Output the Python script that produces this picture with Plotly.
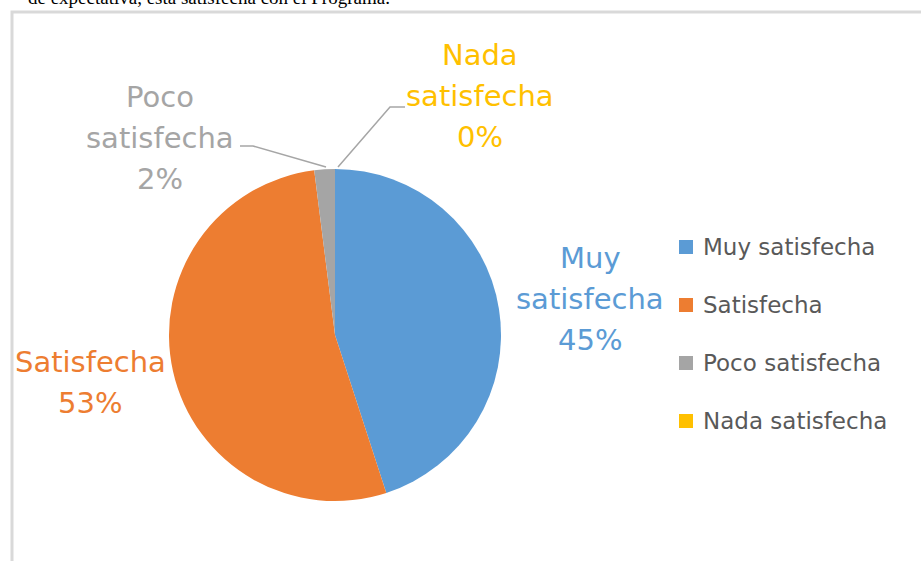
import plotly.graph_objects as go

# ---- data ----
categories = ["Muy satisfecha", "Satisfecha", "Poco satisfecha", "Nada satisfecha"]
values = [45, 53, 2, 0]
label_lines = [["Muy", "satisfecha"], ["Satisfecha"], ["Poco", "satisfecha"], ["Nada", "satisfecha"]]
colors = ["#5B9BD5", "#ED7D31", "#A5A5A5", "#FFC000"]
caption = "de expectativa, está satisfecha con el Programa."

W, H = 921, 561


def px(x):
    return x / W


def py(y):
    return 1 - y / H


# label layout (pixel centres of first line, line spacing)
label_anchor = [(590, 258), (90, 362), (160, 97), (480, 55)]
line_gap = 41

fig = go.Figure()
cx, cy, r = 335, 335, 166
fig.add_trace(go.Pie(
    labels=categories, values=values, sort=False, direction="clockwise", rotation=0,
    marker=dict(colors=colors, line=dict(width=0)),
    textinfo="none", hoverinfo="none", showlegend=False,
    domain=dict(x=[px(cx - r), px(cx + r)], y=[py(cy + r), py(cy - r)]),
))

total = sum(values)
annotations = []
for lines, (ax, ay), col, v in zip(label_lines, label_anchor, colors, values):
    all_lines = lines + [f"{v / total * 100:.0f}%"]
    for i, t in enumerate(all_lines):
        annotations.append(dict(
            x=px(ax), y=py(ay + i * line_gap), xref="paper", yref="paper",
            text=t, showarrow=False, xanchor="center", yanchor="middle",
            font=dict(family="DejaVu Sans", size=29, color=col)))

# manual legend
for i, (c, col) in enumerate(zip(categories, colors)):
    ly = 247 + i * 58
    fig.add_shape(type="rect", xref="paper", yref="paper",
                  x0=px(679), x1=px(693), y0=py(ly + 7), y1=py(ly - 7),
                  fillcolor=col, line=dict(width=0))
    annotations.append(dict(
        x=px(701), y=py(ly), xref="paper", yref="paper", text=c, showarrow=False,
        xanchor="left", yanchor="middle",
        font=dict(family="DejaVu Sans", size=23, color="#595959")))

# caption cut at top (as in the source page)
annotations.append(dict(
    x=px(392), y=py(10), xref="paper", yref="paper", text=caption, showarrow=False,
    xanchor="right", yanchor="bottom",
    font=dict(family="Liberation Serif", size=19, color="#000000")))

# leader lines
fig.add_shape(type="path", xref="paper", yref="paper",
              path=f"M {px(240)} {py(146)} L {px(253)} {py(146)} L {px(326)} {py(167)}",
              line=dict(color="#A6A6A6", width=1.5))
fig.add_shape(type="path", xref="paper", yref="paper",
              path=f"M {px(405)} {py(107)} L {px(390)} {py(107)} L {px(338)} {py(167)}",
              line=dict(color="#A6A6A6", width=1.5))

# chart frame
fig.add_shape(type="path", xref="paper", yref="paper",
              path=f"M {px(12)} {py(575)} L {px(12)} {py(12)} L {px(935)} {py(12)}",
              line=dict(color="#D9D9D9", width=3))

fig.update_layout(
    width=W, height=H, margin=dict(l=0, r=0, t=0, b=0),
    paper_bgcolor="white", plot_bgcolor="white",
    annotations=annotations, showlegend=False,
)
fig.write_html("out.html", config={"displayModeBar": False},
               post_script="document.body.style.margin='0';")
